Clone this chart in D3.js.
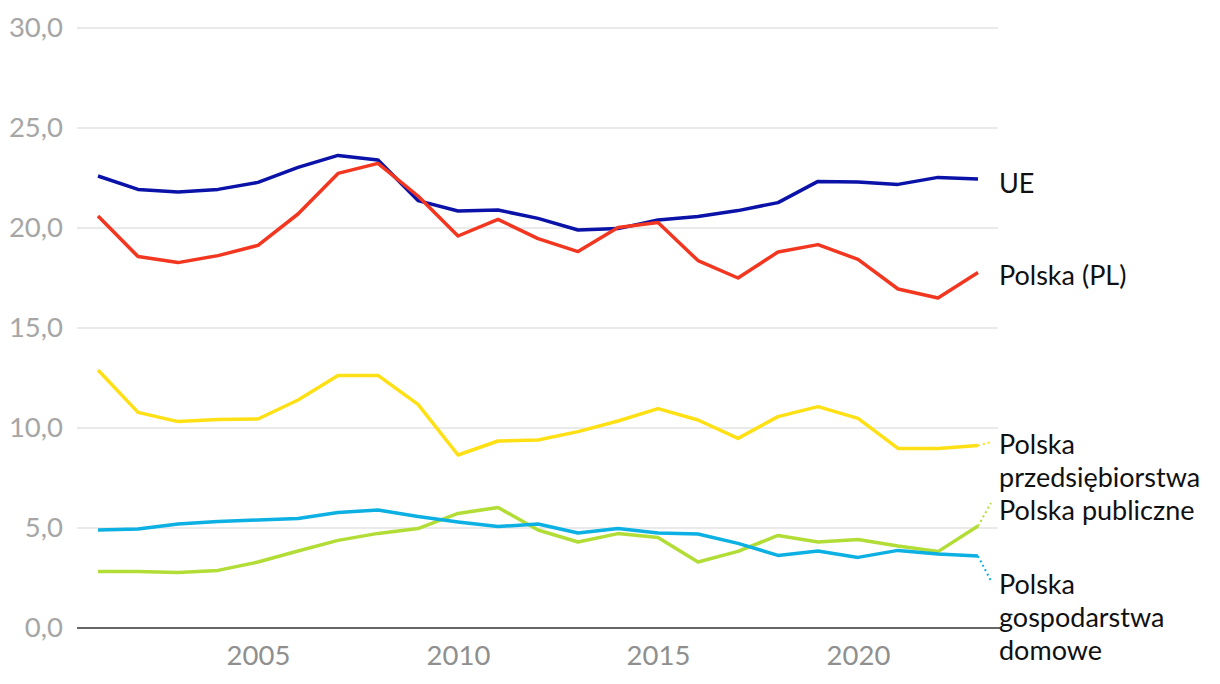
<!DOCTYPE html>
<html><head><meta charset="utf-8">
<script src="https://cdn.jsdelivr.net/npm/d3@7"></script>
<style>
html,body{margin:0;padding:0;background:#fff;}
svg text{font-family:Lato,"Noto Sans",sans-serif;}
</style></head>
<body><svg id="c" width="1220" height="684"></svg>
<script>
const years = d3.range(2001, 2024);
const yTicks = [0, 5, 10, 15, 20, 25, 30];
const xTicks = [2005, 2010, 2015, 2020];

const ue = [22.6,21.93,21.8,21.93,22.28,23.03,23.63,23.4,21.37,20.85,20.9,20.48,19.9,19.97,20.4,20.57,20.87,21.27,22.33,22.3,22.18,22.53,22.45];
const pl = [20.6,18.57,18.27,18.62,19.13,20.7,22.73,23.23,21.6,19.6,20.43,19.47,18.82,20.03,20.27,18.37,17.5,18.8,19.17,18.43,16.95,16.5,17.77];
const plFirms = [12.9,10.78,10.32,10.43,10.45,11.4,12.62,12.63,11.18,8.65,9.35,9.4,9.82,10.35,10.97,10.4,9.48,10.57,11.07,10.48,8.98,8.98,9.12];
const plPublic = [2.82,2.83,2.78,2.88,3.3,3.85,4.38,4.73,4.97,5.73,6.03,4.9,4.3,4.72,4.53,3.3,3.83,4.63,4.3,4.43,4.1,3.82,5.1];
const plHouse = [4.9,4.95,5.2,5.33,5.4,5.47,5.77,5.9,5.57,5.3,5.07,5.2,4.75,4.97,4.75,4.7,4.23,3.63,3.85,3.53,3.88,3.7,3.6];

const seriesNames = [["UE"],["Polska (PL)"],["Polska","przedsiębiorstwa"],["Polska publiczne"],["Polska","gospodarstwa","domowe"]];
const seriesValues = [ue, pl, plFirms, plPublic, plHouse];
const colors = ["#0a12a8","#f2361f","#ffe014","#b2dd36","#0cb0e2"];
// label layout (value units): [leader end value or null, label first-line value]
const labelLayout = [[null,22.3],[null,17.7],[9.3,9.25],[6.25,5.95],[2.35,2.25]];

const svg = d3.select("#c");
const x = d3.scaleLinear().domain([2001, 2023]).range([98, 978]);
const y = d3.scaleLinear().domain([0, 30]).range([628, 28]);
const left = 77, right = 998;

// gridlines
svg.append("g").selectAll("line").data(yTicks.filter(d => d > 0)).join("line")
  .attr("x1", left).attr("x2", right)
  .attr("y1", d => y(d)).attr("y2", d => y(d))
  .attr("stroke", "#e3e3e3").attr("stroke-width", 1.5);

// y axis labels
const yAxis = d3.axisLeft(y).tickValues(yTicks).tickSize(0).tickPadding(0)
  .tickFormat(d => d3.format(".1f")(d).replace(".", ","));
const gy = svg.append("g").attr("transform", `translate(63,0)`).call(yAxis);
gy.select(".domain").remove();
gy.selectAll("text").attr("fill", "#a6a6a6").style("font-size", "27.5px").attr("font-family", "Lato");

// x axis labels
const xAxis = d3.axisBottom(x).tickValues(xTicks).tickSize(0).tickPadding(0).tickFormat(d3.format("d"));
const gx = svg.append("g").attr("transform", `translate(0,${y(0) + 17})`).call(xAxis);
gx.select(".domain").remove();
gx.selectAll("text").attr("fill", "#8f8f8f").style("font-size", "27.5px").attr("font-family", "Lato");

// zero line
svg.append("line").attr("x1", left).attr("x2", right + 2).attr("y1", y(0)).attr("y2", y(0))
  .attr("stroke", "#333").attr("stroke-width", 1.5);

const line = d3.line().x((d, i) => x(years[i])).y(d => y(d));

seriesValues.forEach((vals, k) => {
  svg.append("path").datum(vals).attr("d", line)
    .attr("fill", "none").attr("stroke", colors[k]).attr("stroke-width", 3.5)
    .attr("stroke-linejoin", "round");
});

// labels and leaders
seriesValues.forEach((vals, k) => {
  const [lead, lv] = labelLayout[k];
  const last = vals[vals.length - 1];
  if (lead !== null) {
    svg.append("line")
      .attr("x1", x(2023)).attr("y1", y(last))
      .attr("x2", x(2023) + 13).attr("y2", y(lead))
      .attr("stroke", colors[k]).attr("stroke-width", 2)
      .attr("stroke-dasharray", "2,3");
  }
  const t = svg.append("text").attr("x", 999).attr("y", y(lv))
    .attr("dominant-baseline", "central")
    .attr("fill", "#111").style("font-size", "27px");
  seriesNames[k].forEach((s, j) => {
    t.append("tspan").attr("x", 999).attr("dy", j === 0 ? 0 : 33).text(s);
  });
});
</script></body></html>
